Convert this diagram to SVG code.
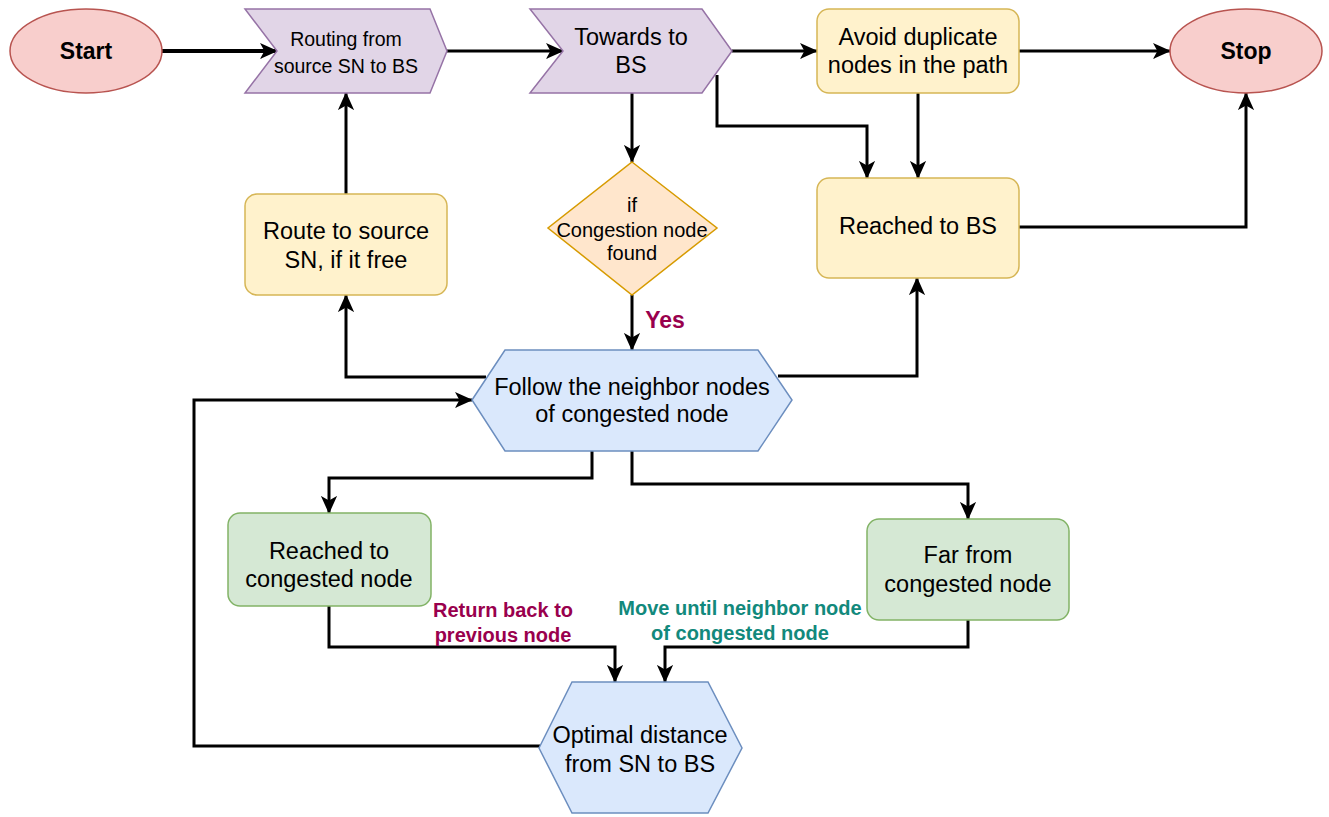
<svg xmlns="http://www.w3.org/2000/svg" width="1329" height="817" viewBox="0 0 1329 817">
<defs>
<marker id="ah" viewBox="0 0 20 20" markerWidth="18" markerHeight="18" refX="19" refY="10" orient="auto" markerUnits="userSpaceOnUse">
<path d="M0,1 L20,10 L0,19 L5,10 z" fill="#000"/>
</marker>
<style>
.t{font-family:"Liberation Sans",Arial,Helvetica,sans-serif;fill:#000;text-anchor:middle;font-size:23.5px}
.term{fill:#f8cecc;stroke:#b85450;stroke-width:1.5}
.step{fill:#e1d5e7;stroke:#9673a6;stroke-width:1.5}
.yel{fill:#fff2cc;stroke:#d6b656;stroke-width:1.5}
.dia{fill:#ffe6cc;stroke:#d79b00;stroke-width:1.5}
.hex{fill:#dae8fc;stroke:#6c8ebf;stroke-width:1.5}
.grn{fill:#d5e8d4;stroke:#82b366;stroke-width:1.5}
.c{fill:none;stroke:#000;stroke-width:3}
.a{marker-end:url(#ah)}
.lbl{font-family:"Liberation Sans",Arial,Helvetica,sans-serif;font-weight:bold;font-size:20px;text-anchor:middle}
</style>
</defs>
<rect width="1329" height="817" fill="#fff"/>
<g id="connectors">
<path class="c a" d="M162,51 L277,51" style="stroke-width:4"/>
<path class="c a" d="M447,51 L563,51"/>
<path class="c a" d="M732,51 L817,51"/>
<path class="c a" d="M1019,51 L1170,51"/>
<path class="c a" d="M632,93 L632,162"/>
<path class="c a" d="M717,75 L717,126 L867,126 L867,178"/>
<path class="c a" d="M918,93 L918,178"/>
<path class="c a" d="M1019,227 L1246,227 L1246,93"/>
<path class="c a" d="M346,194 L346,93"/>
<path class="c a" d="M632,295 L632,350"/>
<path class="c a" d="M486,377 L346,377 L346,295"/>
<path class="c a" d="M778,376 L917,376 L917,278"/>
<path class="c a" d="M540,746 L194,746 L194,400 L472,400"/>
<path class="c a" d="M592,451 L592,478 L329,478 L329,513"/>
<path class="c a" d="M632,451 L632,484 L968,484 L968,519"/>
<path class="c a" d="M329,606 L329,647 L615,647 L615,682"/>
<path class="c a" d="M968,620 L968,647 L665,647 L665,682"/>
<text class="lbl" x="665" y="328" fill="#99004d" style="font-size:23px">Yes</text>
<text class="lbl" x="503" y="617" fill="#99004d">Return back to</text>
<text class="lbl" x="503" y="642" fill="#99004d">previous node</text>
<text class="lbl" x="740" y="615" fill="#12897c">Move until neighbor node</text>
<text class="lbl" x="740" y="640" fill="#12897c">of congested node</text>
</g>
<g id="start">
<ellipse class="term" cx="86" cy="51" rx="76" ry="42"/>
<text class="t" x="86" y="59" font-weight="bold" style="font-size:23px">Start</text>
</g>
<g id="routing">
<polygon class="step" points="245,9 430,9 447,51 430,93 245,93 277,51"/>
<text class="t" x="346" y="46" style="font-size:19.5px">Routing from</text>
<text class="t" x="346" y="73" style="font-size:19.5px">source SN to BS</text>
</g>
<g id="towards">
<polygon class="step" points="530,9 702,9 732,51 702,93 530,93 563,51"/>
<text class="t" x="631" y="45">Towards to</text>
<text class="t" x="631" y="73">BS</text>
</g>
<g id="avoid">
<rect class="yel" x="817" y="9" width="202" height="84" rx="12"/>
<text class="t" x="918" y="45">Avoid duplicate</text>
<text class="t" x="918" y="73">nodes in the path</text>
</g>
<g id="stop">
<ellipse class="term" cx="1246" cy="51" rx="76" ry="42"/>
<text class="t" x="1246" y="59" font-weight="bold" style="font-size:23px">Stop</text>
</g>
<g id="decision">
<polygon class="dia" points="632,162 717,228 632,295 548,228"/>
<text class="t" x="632" y="212" style="font-size:20px">if</text>
<text class="t" x="632" y="237" style="font-size:20px">Congestion node</text>
<text class="t" x="632" y="260" style="font-size:20px">found</text>
</g>
<g id="reachedBS">
<rect class="yel" x="817" y="178" width="202" height="100" rx="12"/>
<text class="t" x="918" y="234">Reached to BS</text>
</g>
<g id="routeSource">
<rect class="yel" x="245" y="194" width="202" height="101" rx="12"/>
<text class="t" x="346" y="239">Route to source</text>
<text class="t" x="346" y="268">SN, if it free</text>
</g>
<g id="follow">
<polygon class="hex" points="472,400 505,350 758,350 792,400 758,451 505,451"/>
<text class="t" x="632" y="395">Follow the neighbor nodes</text>
<text class="t" x="632" y="422">of congested node</text>
</g>
<g id="reachedCongested">
<rect class="grn" x="228" y="513" width="203" height="93" rx="12"/>
<text class="t" x="329" y="559">Reached to</text>
<text class="t" x="329" y="587">congested node</text>
</g>
<g id="farFrom">
<rect class="grn" x="867" y="519" width="202" height="101" rx="12"/>
<text class="t" x="968" y="563">Far from</text>
<text class="t" x="968" y="592">congested node</text>
</g>
<g id="optimal">
<polygon class="hex" points="539,748 572,682 708,682 742,748 708,813 572,813"/>
<text class="t" x="640" y="743">Optimal distance</text>
<text class="t" x="640" y="772">from SN to BS</text>
</g>
</svg>
